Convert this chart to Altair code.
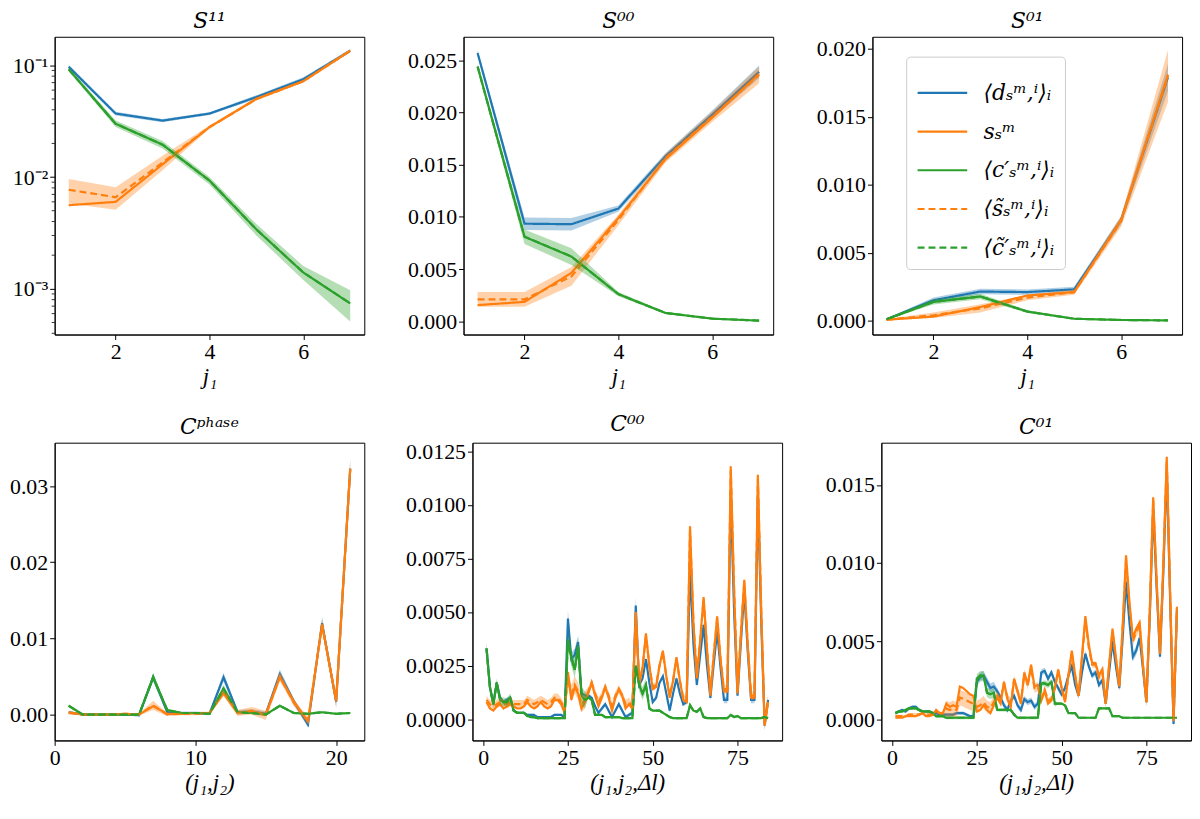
import altair as alt
import pandas as pd

BLUE, ORANGE, GREEN = "#1f77b4", "#ff7f0e", "#2ca02c"
KEYS = ["⟨dₛᵐ,ⁱ⟩ᵢ", "sₛᵐ", "⟨c′ₛᵐ,ⁱ⟩ᵢ", "⟨s̃ₛᵐ,ⁱ⟩ᵢ", "⟨c̃′ₛᵐ,ⁱ⟩ᵢ"]
SERIF = "Liberation Serif"
TSERIF = "DejaVu Serif"

# ---- S panels, j1 = 1..7 ----
j1 = [1, 2, 3, 4, 5, 6, 7]

d_s11 = [0.097, 0.037, 0.032, 0.037, 0.052, 0.075, 0.135]
d_s11_err = [0.004, 0.0015, 0.001, 0.001, 0.002, 0.003, 0.005]
s_s11 = [0.0056, 0.006, 0.013, 0.028, 0.050, 0.072, 0.135]
st_s11 = [0.0077, 0.0066, 0.0135, 0.028, 0.050, 0.072, 0.135]
st_s11_err = [0.0019, 0.0015, 0.002, 0.001, 0.0015, 0.002, 0.004]
c_s11 = [0.092, 0.030, 0.0195, 0.0093, 0.0034, 0.0014, 0.00074]
c_s11_err = [0.004, 0.002, 0.0015, 0.0007, 0.0004, 0.0002, 0.00023]
minor_s11 = [0.0004, 0.0005, 0.0006, 0.0007, 0.0008, 0.0009,
             0.002, 0.003, 0.004, 0.005, 0.006, 0.007, 0.008, 0.009,
             0.02, 0.03, 0.04, 0.05, 0.06, 0.07, 0.08, 0.09]

d_s00 = [0.0257, 0.00935, 0.0093, 0.0108, 0.0158, 0.0198, 0.0239]
d_s00_err = [0.0003, 0.0006, 0.0006, 0.0003, 0.0003, 0.0004, 0.0006]
s_s00 = [0.00155, 0.00186, 0.00464, 0.0099, 0.0155, 0.0195, 0.0237]
st_s00 = [0.0021, 0.0021, 0.0043, 0.0097, 0.0156, 0.0196, 0.0236]
st_s00_err = [0.0007, 0.0007, 0.0009, 0.0005, 0.0004, 0.0005, 0.0008]
c_s00 = [0.0244, 0.0081, 0.0062, 0.0026, 0.0008, 0.00025, 0.00006]
c_s00_err = [0.0003, 0.0007, 0.0008, 0.0002, 0.0001, 0.00005, 0.00003]

d_s01 = [0.0001, 0.0015, 0.00214, 0.0021, 0.0023, 0.0074, 0.0179]
d_s01_err = [0.00005, 0.0002, 0.0002, 0.0002, 0.0002, 0.0003, 0.001]
s_s01 = [0.00007, 0.0003, 0.001, 0.00185, 0.0021, 0.0074, 0.0181]
st_s01 = [0.00007, 0.0004, 0.0009, 0.0017, 0.0021, 0.0073, 0.0180]
st_s01_err = [0.00005, 0.0002, 0.0003, 0.0002, 0.0002, 0.0004, 0.0019]
c_s01 = [0.0001, 0.00138, 0.00178, 0.00067, 0.00014, 0.00005, 0.00002]
c_s01_err = [0.00005, 0.0002, 0.0002, 0.0001, 0.00003, 0.00002, 0.00001]

# ---- C phase, (j1, j2) index 1..21 ----
jj = list(range(1, 22))
d_ph = [0.0003, 0.0, 0.0, 0.0, 0.0, -0.0001, 0.0049, 0.0003, 0.0002, 0.0002, 0.0001,
        0.0049, 0.0003, 0.0004, 0.0001, 0.0053, 0.0017, -0.0013, 0.0120, 0.0017, 0.0323]
d_ph_err = [0.0002, 0.0001, 0.0001, 0.0001, 0.0001, 0.0001, 0.0006, 0.0002, 0.0002, 0.0002, 0.0002,
            0.0006, 0.0003, 0.0003, 0.0003, 0.0006, 0.0004, 0.0004, 0.0008, 0.0008, 0.0012]
s_ph = [0.0003, 0.0, 0.0, 0.0, 0.0001, 0.0, 0.0011, 0.0001, 0.0001, 0.0002, 0.0002,
        0.0028, 0.0002, 0.0004, 0.0, 0.0049, 0.0017, -0.0009, 0.0118, 0.0018, 0.0323]
st_ph = [0.0002, 0.0, 0.0, 0.0, 0.0001, 0.0, 0.0012, 0.0, 0.0001, 0.0001, 0.0002,
         0.0030, 0.0002, 0.0005, -0.0001, 0.0050, 0.0015, -0.0008, 0.0118, 0.0018, 0.0322]
st_ph_err = [0.0002, 0.0001, 0.0001, 0.0001, 0.0001, 0.0001, 0.0006, 0.0002, 0.0002, 0.0002, 0.0002,
             0.0006, 0.0004, 0.0005, 0.0006, 0.0006, 0.0004, 0.0005, 0.0008, 0.0008, 0.0014]
c_ph = [0.00115, 0.0, 0.0, 0.0, 0.0, 0.0, 0.0049, 0.0006, 0.0002, 0.0002, 0.0001,
        0.0034, 0.0003, 0.0002, 0.0, 0.00115, 0.0002, 0.0001, 0.0003, 0.0001, 0.0002]
c_ph_err = [0.0002, 0.0001, 0.0001, 0.0001, 0.0001, 0.0001, 0.0005, 0.0002, 0.0001, 0.0001, 0.0001,
            0.0005, 0.0001, 0.0001, 0.0001, 0.0002, 0.0001, 0.0001, 0.0001, 0.0001, 0.0001]

# ---- C00 / C01, (j1, j2, dl) index 1..84 ----
jjl = list(range(1, 85))
d_c00 = [0.0033, 0.0015, 0.0007, 0.0017, 0.0010, 0.0008, 0.0009, 0.0010, 0.0004, 0.0003, 0.0003, 0.0003,
         0.0002, 0.0002, 0.0002, 0.0001, 0.0001, 0.0001, 0.0001, 0.0001, 0.0002, 0.0002, 0.0002, 0.0001,
         0.0047, 0.0028, 0.0030, 0.0036, 0.0012, 0.0011, 0.0011, 0.0010, 0.0006, 0.0003, 0.0005, 0.0007,
         0.0004, 0.0001, 0.0004, 0.0007, 0.0004, 0.0001, 0.0002, 0.0003, 0.0053, 0.0016, 0.0019, 0.0028,
         0.0017, 0.0008, 0.0010, 0.0017, 0.0020, 0.0012, 0.0004, 0.0012, 0.0019, 0.0012, 0.0007, 0.0008,
         0.0070, 0.0035, 0.0016, 0.0030, 0.0044, 0.0025, 0.0010, 0.0026, 0.0041, 0.0024, 0.0009, 0.0009,
         0.0105, 0.0050, 0.0011, 0.0036, 0.0060, 0.0032, 0.0009, 0.0009, 0.0105, 0.0045, -0.0003, 0.0009]
d_c00_err = ([0.0003] + [0.0001] * 7 + [0.00005] * 16 + [0.0004, 0.0003, 0.0003, 0.0003] + [0.0001] * 16
             + [0.0004] + [0.0001] * 15 + [0.0004] + [0.00015] * 11 + [0.0004] + [0.00015] * 7
             + [0.0004, 0.0002, 0.0002, 0.0002])
s_c00 = [0.0008, 0.0005, 0.0004, 0.0006, 0.0007, 0.0005, 0.0006, 0.0007, 0.0006, 0.0005, 0.0005, 0.0006,
         0.0008, 0.0006, 0.0005, 0.0006, 0.0008, 0.0006, 0.0005, 0.0006, 0.0009, 0.0009, 0.0007, 0.0003,
         0.0022, 0.0009, 0.0015, 0.0012, 0.0005, 0.0008, 0.0012, 0.0017, 0.0011, 0.0006, 0.0010, 0.0015,
         0.0010, 0.0004, 0.0010, 0.0014, 0.0011, 0.0005, 0.0007, 0.0005, 0.0050, 0.0016, 0.0024, 0.0040,
         0.0025, 0.0014, 0.0015, 0.0025, 0.0032, 0.0020, 0.0010, 0.0018, 0.0029, 0.0018, 0.0009, 0.0008,
         0.0090, 0.0045, 0.0019, 0.0037, 0.0057, 0.0033, 0.0011, 0.0030, 0.0048, 0.0028, 0.0013, 0.0013,
         0.0118, 0.0060, 0.0012, 0.0040, 0.0065, 0.0035, 0.0010, 0.0010, 0.0114, 0.0050, -0.0003, 0.0008]
st_c00 = [0.0009, 0.0007, 0.0006, 0.0007, 0.0008, 0.0007, 0.0007, 0.0008, 0.0007, 0.0007, 0.0007, 0.0007,
          0.0009, 0.0008, 0.0007, 0.0008, 0.0009, 0.0008, 0.0007, 0.0008, 0.0010, 0.0010, 0.0008, 0.0005,
          0.0019, 0.0012, 0.0016, 0.0013, 0.0007, 0.0009, 0.0013, 0.0017, 0.0012, 0.0008, 0.0011, 0.0015,
          0.0011, 0.0006, 0.0011, 0.0014, 0.0011, 0.0007, 0.0008, 0.0006, 0.0049, 0.0017, 0.0024, 0.0039,
          0.0025, 0.0015, 0.0016, 0.0025, 0.0031, 0.0020, 0.0011, 0.0018, 0.0028, 0.0018, 0.0010, 0.0009,
          0.0088, 0.0045, 0.0020, 0.0037, 0.0056, 0.0033, 0.0012, 0.0030, 0.0047, 0.0028, 0.0014, 0.0014,
          0.0116, 0.0060, 0.0013, 0.0040, 0.0064, 0.0035, 0.0011, 0.0011, 0.0112, 0.0050, -0.0002, 0.0008]
st_c00_err = ([0.0002] * 24 + [0.0004] * 6 + [0.0002] * 14 + [0.0004] + [0.00015] * 15 + [0.0005]
              + [0.0002] * 11 + [0.0005] + [0.0002] * 7 + [0.0005, 0.0003, 0.0003, 0.0003])
c_c00 = [0.0033, 0.0015, 0.0007, 0.0017, 0.0009, 0.0008, 0.0008, 0.0010, 0.0004, 0.0003, 0.0003, 0.0003,
         0.00015, 0.0001, 0.0001, 0.00005, 0.00005, 0.00005, 0.00005, 0.00005, 0.00005, 0.00005, 0.00005, 0.00005,
         0.0037, 0.0029, 0.0023, 0.0034, 0.0011, 0.0009, 0.0010, 0.0009, 0.0002, 0.0002, 0.0002, 0.0001,
         0.0001, 0.0001, 0.0001, 0.0001, 0.00005, 0.00005, 0.00005, 0.00005, 0.0025, 0.0016, 0.0012, 0.0016,
         0.0005, 0.0004, 0.0004, 0.0004, 0.0003, 0.0002, 0.0001, 0.00005, 0.00005, 0.00005, 0.00005, 0.00005,
         0.00065, 0.0004, 0.00035, 0.0005, 0.0001, 0.00005, 0.00005, 0.00005, 0.00005, 0.00005, 0.00005, 0.00005,
         0.0002, 0.0001, 0.00015, 0.00005, 0.00005, 0.00005, 0.00005, 0.00005, 0.00005, 0.00005, 0.0001, 0.00005]
c_c00_err = [0.0002] * 8 + [0.00005] * 16 + [0.0004] * 6 + [0.00005] * 14 + [0.0003] * 4 + [0.00005] * 36

d_c01 = [0.0004, 0.0005, 0.0006, 0.0005, 0.0007, 0.0008, 0.0008, 0.0006, 0.0005, 0.0005, 0.0005, 0.0004,
         0.0004, 0.0003, 0.0003, 0.0003, 0.0003, 0.0003, 0.0004, 0.0004, 0.0004, 0.0003, 0.0002, 0.0002,
         0.0024, 0.0027, 0.0028, 0.0024, 0.0020, 0.0021, 0.0018, 0.0014, 0.0009, 0.0006, 0.0012, 0.0015,
         0.0009, 0.0006, 0.0013, 0.0011, 0.0012, 0.0008, 0.0010, 0.0030, 0.0031, 0.0026, 0.0030, 0.0024,
         0.0020, 0.0016, 0.0020, 0.0028, 0.0034, 0.0022, 0.0015, 0.0030, 0.0042, 0.0034, 0.0028, 0.0030,
         0.0022, 0.0025, 0.0010, 0.0030, 0.0050, 0.0034, 0.0020, 0.0052, 0.0088, 0.0062, 0.0040, 0.0044,
         0.0052, 0.0032, 0.0011, 0.0066, 0.0135, 0.0085, 0.0040, 0.0095, 0.0160, 0.0076, -0.0003, 0.0070]
d_c01_err = [0.0001] * 24 + [0.0003] * 6 + [0.0002] * 38 + [0.0003] * 16
s_c01 = [0.0001, 0.0001, 0.0001, 0.0002, 0.0002, 0.0002, 0.0002, 0.0003, 0.0004, 0.0002, 0.0002, 0.0003,
         0.0006, 0.0004, 0.0004, 0.0010, 0.0008, 0.0009, 0.0008, 0.0021, 0.0020, 0.0018, 0.0016, 0.0015,
         0.0005, 0.0006, 0.0009, 0.0006, 0.0004, 0.0009, 0.0014, 0.0010, 0.0024, 0.0013, 0.0008, 0.0026,
         0.0018, 0.0010, 0.0030, 0.0022, 0.0035, 0.0021, 0.0022, 0.0012, 0.0018, 0.0010, 0.0012, 0.0020,
         0.0032, 0.0020, 0.0011, 0.0028, 0.0044, 0.0028, 0.0015, 0.0040, 0.0066, 0.0048, 0.0036, 0.0036,
         0.0028, 0.0032, 0.0010, 0.0035, 0.0058, 0.0040, 0.0021, 0.0060, 0.0105, 0.0075, 0.0052, 0.0058,
         0.0062, 0.0035, 0.0011, 0.0070, 0.0142, 0.0090, 0.0042, 0.0100, 0.0168, 0.0080, -0.0001, 0.0072]
st_c01 = [0.0002, 0.0002, 0.0002, 0.0002, 0.0003, 0.0003, 0.0003, 0.0003, 0.0004, 0.0003, 0.0003, 0.0003,
          0.0005, 0.0004, 0.0004, 0.0007, 0.0006, 0.0007, 0.0006, 0.0014, 0.0013, 0.0012, 0.0011, 0.0010,
          0.0008, 0.0009, 0.0011, 0.0008, 0.0007, 0.0011, 0.0015, 0.0012, 0.0023, 0.0014, 0.0010, 0.0025,
          0.0018, 0.0011, 0.0029, 0.0022, 0.0033, 0.0020, 0.0021, 0.0013, 0.0019, 0.0012, 0.0013, 0.0020,
          0.0031, 0.0020, 0.0012, 0.0028, 0.0042, 0.0028, 0.0015, 0.0039, 0.0063, 0.0046, 0.0035, 0.0035,
          0.0027, 0.0031, 0.0010, 0.0034, 0.0056, 0.0039, 0.0021, 0.0058, 0.0102, 0.0072, 0.0050, 0.0056,
          0.0060, 0.0034, 0.0011, 0.0068, 0.0140, 0.0088, 0.0042, 0.0098, 0.0166, 0.0079, -0.0001, 0.0071]
st_c01_err = [0.0001] * 15 + [0.0005] * 9 + [0.0004] * 6 + [0.0003] * 14 + [0.0002] * 16 + [0.0003] * 16 + [0.0004] * 8
c_c01 = [0.0004, 0.0005, 0.0005, 0.0006, 0.0007, 0.0007, 0.0007, 0.0006, 0.0005, 0.0005, 0.0005, 0.0004,
         0.0002, 0.0002, 0.0002, 0.0001, 0.0001, 0.0001, 0.0001, 0.0001, 0.0001, 0.0001, 0.0001, 0.0001,
         0.0026, 0.0028, 0.0028, 0.0017, 0.0016, 0.0017, 0.0006, 0.0006, 0.0006, 0.0006, 0.0006, 0.0003,
         0.0001, 0.0001, 0.0001, 0.0001, 0.0001, 0.0001, 0.0001, 0.0023, 0.0023, 0.0022, 0.0024, 0.0010,
         0.0010, 0.0010, 0.0009, 0.0004, 0.0004, 0.0004, 0.0001, 0.0001, 0.0001, 0.0001, 0.0001, 0.0001,
         0.0007, 0.0007, 0.0007, 0.0007, 0.0002, 0.0002, 0.0002, 0.0001, 0.0001, 0.0001, 0.0001, 0.0001,
         0.0001, 0.0001, 0.0001, 0.0001, 0.0001, 0.0001, 0.0001, 0.0001, 0.0001, 0.0001, 0.0001, 0.0001]
c_c01_err = [0.0001] * 24 + [0.0003] * 6 + [0.0001] * 14 + [0.0002] * 4 + [0.00005] * 36

W, H, YEXT = 312, 300, 58
BAND_COLORS = {KEYS[0]: BLUE, KEYS[3]: ORANGE, KEYS[4]: GREEN}

color_scale = alt.Scale(domain=KEYS, range=[BLUE, ORANGE, GREEN, ORANGE, GREEN])
dash_scale = alt.Scale(domain=KEYS, range=[[1, 0], [1, 0], [1, 0], [7, 4], [7, 4]])

legend_spec = alt.Legend(
    orient="none", legendX=34, legendY=20, title=None,
    symbolType="stroke", symbolSize=2500, symbolStrokeWidth=2.2,
    labelFont=TSERIF, labelFontSize=22, labelFontStyle="italic", labelColor="black", labelOffset=15,
    fillColor="rgba(255,255,255,0.8)", strokeColor="#cccccc", cornerRadius=4,
    padding=10, rowPadding=1,
)


def frame(x, d, d_err, s, st, st_err, c, c_err):
    recs = []
    for i, xi in enumerate(x):
        for key, v, e in ((KEYS[0], d[i], d_err[i]), (KEYS[1], s[i], 0.0), (KEYS[2], c[i], 0.0),
                          (KEYS[3], st[i], st_err[i]), (KEYS[4], c[i], c_err[i])):
            recs.append({"x": xi, "key": key, "v": v, "lo": v - e, "hi": v + e})
    return pd.DataFrame(recs)


def panel(df, title, xtitle, xdom, xvals, ydom, yvals, yfmt, log=False, legend=False, minor=None):
    xenc = alt.X("x:Q", scale=alt.Scale(domain=xdom, nice=False, zero=False),
                 axis=alt.Axis(values=xvals, format="d", title=xtitle, labelFlush=False))
    if log:
        yscale = alt.Scale(type="log", domain=ydom, nice=False)
        yaxis = alt.Axis(values=yvals, title=None, minExtent=YEXT, maxExtent=YEXT,
                         labelExpr="datum.value < 0.005 ? '10⁻³' : datum.value < 0.05 ? '10⁻²' : '10⁻¹'")
    else:
        yscale = alt.Scale(domain=ydom, nice=False, zero=False)
        yaxis = alt.Axis(values=yvals, format=yfmt, title=None, minExtent=YEXT, maxExtent=YEXT)
    leg = legend_spec if legend else None
    base = alt.Chart(df)

    def band(k):
        return base.transform_filter(alt.datum.key == k).mark_area(
            color=BAND_COLORS[k], opacity=0.35, clip=True
        ).encode(x=xenc, y=alt.Y("lo:Q", scale=yscale, axis=yaxis), y2="hi:Q")

    def line(k):
        return base.transform_filter(alt.datum.key == k).mark_line(strokeWidth=2.2, clip=True).encode(
            x=xenc, y=alt.Y("v:Q", scale=yscale, axis=yaxis),
            color=alt.Color("key:N", scale=color_scale, legend=leg),
            strokeDash=alt.StrokeDash("key:N", scale=dash_scale, legend=leg))

    layers = [band(KEYS[0]), line(KEYS[0]), line(KEYS[1]), line(KEYS[2]),
              band(KEYS[3]), line(KEYS[3]), band(KEYS[4]), line(KEYS[4])]
    if minor is not None:
        layers.append(alt.Chart(pd.DataFrame({"m": minor})).mark_rule(color="black", strokeWidth=0.8).encode(
            y=alt.Y("m:Q", scale=yscale, axis=yaxis), x=alt.value(-3), x2=alt.value(0)))
    return alt.layer(*layers).properties(width=W, height=H, title=title)


RES = dict(x="independent", y="independent", color="independent", strokeDash="independent")

p_s11 = panel(frame(j1, d_s11, d_s11_err, s_s11, st_s11, st_s11_err, c_s11, c_s11_err),
              "S¹¹", "j₁", [0.7, 7.3], [2, 4, 6], [0.00039, 0.18], [0.001, 0.01, 0.1], None,
              log=True, minor=minor_s11)
p_s00 = panel(frame(j1, d_s00, d_s00_err, s_s00, st_s00, st_s00_err, c_s00, c_s00_err),
              "S⁰⁰", "j₁", [0.7, 7.3], [2, 4, 6], [-0.00127, 0.02726],
              [0, 0.005, 0.01, 0.015, 0.02, 0.025], ".3f")
p_s01 = panel(frame(j1, d_s01, d_s01_err, s_s01, st_s01, st_s01_err, c_s01, c_s01_err),
              "S⁰¹", "j₁", [0.7, 7.3], [2, 4, 6], [-0.00102, 0.02088],
              [0, 0.005, 0.01, 0.015, 0.02], ".3f", legend=True)
p_ph = panel(frame(jj, d_ph, d_ph_err, s_ph, st_ph, st_ph_err, c_ph, c_ph_err),
             "Cᵖʰᵃˢᵉ", "(j₁,j₂)", [0, 22], [0, 10, 20], [-0.0034, 0.0357],
             [0, 0.01, 0.02, 0.03], ".2f")
p_c00 = panel(frame(jjl, d_c00, d_c00_err, s_c00, st_c00, st_c00_err, c_c00, c_c00_err),
              "C⁰⁰", "(j₁,j₂,Δl)", [-3.15, 88.15], [0, 25, 50, 75], [-0.00099, 0.0129],
              [0, 0.0025, 0.005, 0.0075, 0.01, 0.0125], ".4f")
p_c01 = panel(frame(jjl, d_c01, d_c01_err, s_c01, st_c01, st_c01_err, c_c01, c_c01_err),
              "C⁰¹", "(j₁,j₂,Δl)", [-3.15, 88.15], [0, 25, 50, 75], [-0.00135, 0.0177],
              [0, 0.005, 0.01, 0.015], ".3f")

top = alt.hconcat(p_s11, p_s00, p_s01, spacing=40).resolve_scale(**RES)
bottom = alt.hconcat(p_ph, p_c00, p_c01, spacing=40).resolve_scale(**RES)

chart = alt.vconcat(top, bottom, spacing=24).resolve_scale(**RES).properties(
    padding={"left": -12, "top": -2, "right": 0, "bottom": 0}
).configure_view(
    stroke="black", strokeWidth=1
).configure_axis(
    grid=False, labelFont=SERIF, labelFontSize=22, labelColor="black", labelPadding=2,
    tickColor="black", tickSize=5, tickWidth=1, domainColor="black", domainWidth=1,
    titleFont=SERIF, titleFontSize=23, titleFontWeight="normal", titleFontStyle="italic",
    titleColor="black", titlePadding=3,
).configure_title(
    font=TSERIF, fontSize=22, fontStyle="italic", fontWeight="normal", color="black", offset=0
)

chart.save("out.html", embed_options={"renderer": "svg", "actions": False})
